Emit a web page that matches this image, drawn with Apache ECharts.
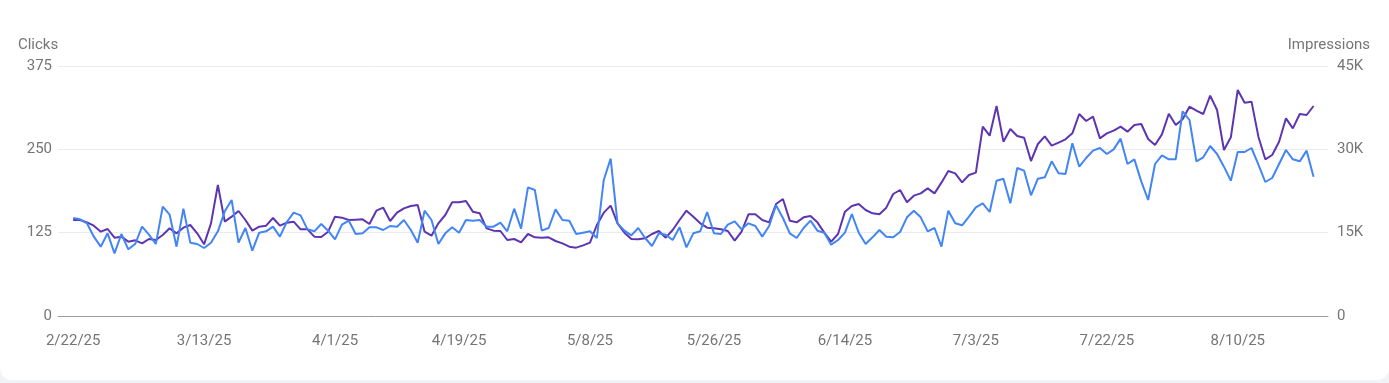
<!DOCTYPE html>
<html>
<head>
<meta charset="utf-8">
<script src="https://cdn.jsdelivr.net/npm/echarts@6/dist/echarts.min.js"></script>
<style>
  html, body { margin: 0; padding: 0; background: #f1f3f4; }
  #card { position: absolute; left: 0; top: -12px; width: 1389px; height: 392px; background: #ffffff; border-radius: 12px; }
  #chart { position: absolute; left: 0; top: 0; width: 1389px; height: 383px; }
</style>
</head>
<body>
<div id="card"></div>
<div id="chart"></div>
<script>
// ---- data ----
const startDate = '2025-02-22';
const dayCount = 181;
const xTickLabels = ['2/22/25','3/13/25','4/1/25','4/19/25','5/8/25','5/26/25','6/14/25','7/3/25','7/22/25','8/10/25'];
const clickTicks = [0, 125, 250, 375];
const impressionTicks = [0, 15000, 30000, 45000];

const clicks = [
  147,145,139,119,104,124,94,123,100,108,
  134,122,108,164,152,104,161,110,108,102,
  110,127,157,174,110,132,98,125,127,134,
  119,141,155,151,130,127,138,128,115,137,
  143,123,124,133,133,129,135,134,144,129,
  110,158,144,108,124,133,125,144,143,144,
  134,134,140,127,161,131,193,189,128,132,
  160,144,143,123,125,127,117,204,236,139,
  128,121,132,117,105,124,122,114,133,103,
  124,127,156,124,123,137,142,130,139,135,
  119,135,166,147,124,117,132,143,128,125,
  107,114,125,153,125,108,118,129,119,118,
  126,148,158,148,127,132,104,158,139,136,
  149,163,169,156,203,206,169,222,218,181,
  206,208,232,214,213,259,224,237,248,252,
  243,250,266,228,235,202,174,228,241,235,
  235,307,294,232,238,255,243,224,203,246,
  246,252,227,201,207,228,249,235,232,248,
  209
];

const impressions = [
  17280,17280,16860,16260,15180,15660,14100,14280,13380,13620,
  13080,13860,13680,14580,15780,14880,15900,16380,14880,12900,
  16680,23580,16980,17880,18900,17280,15360,16080,16260,17640,
  16260,16800,16980,15600,15600,14280,14220,15180,17880,17700,
  17280,17340,17400,16560,18960,19500,17100,18600,19380,19800,
  19980,15180,14460,16680,18180,20460,20460,20700,18780,18480,
  15780,15360,15300,13680,13860,13260,14760,14160,14100,14160,
  13500,13080,12480,12300,12720,13200,16380,18600,19860,16680,
  15000,13860,13800,13980,14760,15300,14100,15480,17280,18960,
  17880,16680,15900,15780,15600,15300,13560,15180,18300,18300,
  17280,16860,20160,21060,17160,16860,17760,18000,16860,15000,
  13380,14760,18780,19800,20160,19080,18480,18300,19500,21960,
  22680,20460,21660,22080,22980,22080,24000,26100,25680,24060,
  25380,25800,34080,32460,37800,31380,33660,32400,32100,27900,
  30960,32340,30660,31200,31800,32880,36360,35100,35880,31980,
  32880,33360,34080,33180,34380,34560,31860,30780,32700,36400,
  34380,35400,37680,36960,36360,39660,37080,29880,32160,40680,
  38400,38580,32280,28200,28980,31380,35580,33780,36360,36180,
  37800
];

// date labels for each day (M/D/YY)
const dates = [];
(function () {
  const d0 = new Date(startDate + 'T00:00:00Z');
  for (let i = 0; i < dayCount; i++) {
    const d = new Date(d0.getTime() + i * 86400000);
    dates.push((d.getUTCMonth() + 1) + '/' + d.getUTCDate() + '/' + String(d.getUTCFullYear()).slice(2));
  }
})();

const tickIdx = xTickLabels.map(l => dates.indexOf(l));
const FONT = 'Roboto, "Noto Sans", sans-serif';
const TXT = '#757575';

const chart = echarts.init(document.getElementById('chart'), null, { renderer: 'canvas' });
chart.setOption({
  animation: false,
  grid: { left: 58, right: 61, top: 66, bottom: 67, containLabel: false },
  xAxis: {
    type: 'value',
    min: -2.2,
    max: dayCount - 1 + 2.1,
    axisLine: { show: true, lineStyle: { color: '#9e9e9e', width: 1 } },
    axisTick: { show: false },
    splitLine: { show: false },
    axisLabel: {
      customValues: tickIdx,
      formatter: v => dates[Math.round(v)] || '',
      color: TXT, fontFamily: FONT, fontSize: 15, margin: 18
    }
  },
  yAxis: [
    {
      type: 'value', min: clickTicks[0], max: clickTicks[clickTicks.length - 1], interval: clickTicks[1] - clickTicks[0],
      name: 'Clicks', nameLocation: 'end', nameGap: 13,
      nameTextStyle: { color: TXT, fontFamily: FONT, fontSize: 15, align: 'right', padding: [0, 15, 0, 0] },
      axisLine: { show: false }, axisTick: { show: false },
      axisLabel: { color: TXT, fontFamily: FONT, fontSize: 15, margin: 6 },
      splitLine: { show: true, lineStyle: { color: '#ebebeb', width: 1 } }
    },
    {
      type: 'value', min: impressionTicks[0], max: impressionTicks[impressionTicks.length - 1], interval: impressionTicks[1] - impressionTicks[0],
      name: 'Impressions', nameLocation: 'end', nameGap: 13,
      nameTextStyle: { color: TXT, fontFamily: FONT, fontSize: 15, align: 'right', padding: [0, -42, 0, 0] },
      axisLine: { show: false }, axisTick: { show: false },
      axisLabel: { color: TXT, fontFamily: FONT, fontSize: 15, margin: 9,
        formatter: v => v === 0 ? '0' : (v / 1000) + 'K' },
      splitLine: { show: false }
    }
  ],
  series: [
    {
      name: 'Impressions', type: 'line', yAxisIndex: 1, showSymbol: false, symbol: 'none',
      lineStyle: { color: '#5e35b1', width: 2 }, itemStyle: { color: '#5e35b1' },
      data: impressions.map((v, i) => [i, v]), z: 2
    },
    {
      name: 'Clicks', type: 'line', yAxisIndex: 0, showSymbol: false, symbol: 'none',
      lineStyle: { color: '#4285f4', width: 2 }, itemStyle: { color: '#4285f4' },
      data: clicks.map((v, i) => [i, v]), z: 3
    }
  ]
});
</script>
</body>
</html>
